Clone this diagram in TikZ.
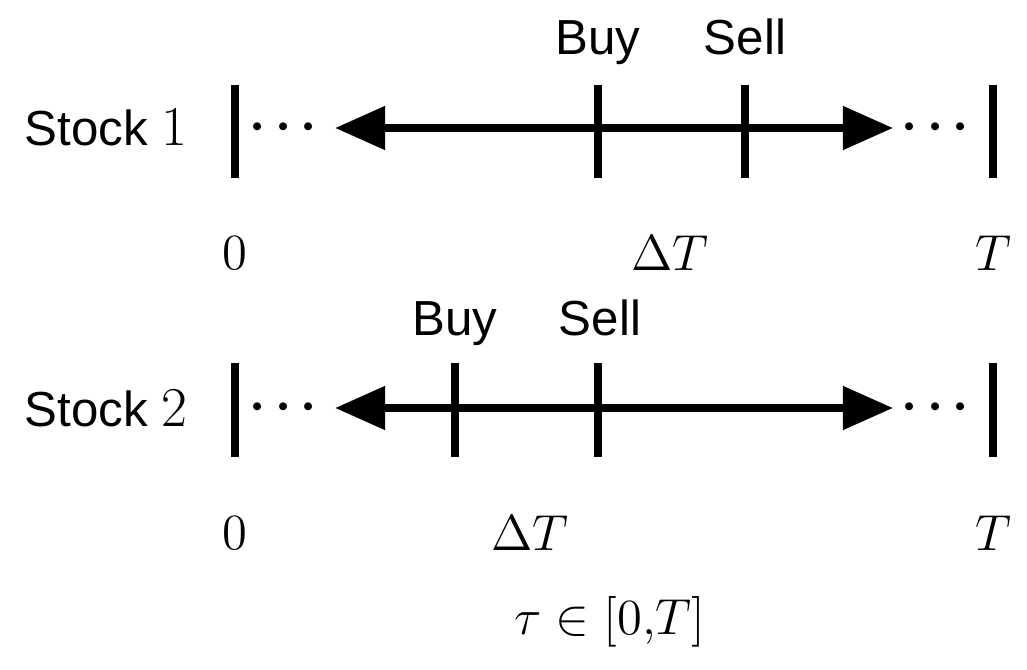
\documentclass[tikz,border=0pt]{standalone}
\usepackage{amsmath}
\usepackage{fontspec}
\setmainfont{Liberation Sans}
\newfontfamily\lmr{Latin Modern Roman}
\usetikzlibrary{arrows.meta}
\begin{document}
\begin{tikzpicture}[x=0.01cm,y=-0.01cm,
    txt/.style={font=\fontsize{14pt}{16pt}\selectfont},
    lbl/.style={font=\fontsize{15.5pt}{18pt}\selectfont},
    tick/.style={line width=2.2pt},
    axis/.style={line width=2.2pt, {Triangle[length=0.5cm,width=0.42cm]}-{Triangle[length=0.5cm,width=0.42cm]}}]
    \useasboundingbox (0,0) rectangle (1027,670);

    % Stock 1
    \node[txt, anchor=base east] (s1) at (200,146) {Stock {\lmr\fontsize{16pt}{18pt}\selectfont 1}};
    \draw[tick] (235,85) -- (235,178);
    \draw[tick] (598,85) -- (598,178);
    \draw[tick] (745,85) -- (745,178);
    \draw[tick] (993,85) -- (993,178);
    \node[txt] (d1a) at (288,128) {$\boldsymbol{\cdots}$};
    \node[txt] (d1b) at (940,128) {$\boldsymbol{\cdots}$};
    \coordinate (l1) at (335,128);
    \coordinate (r1) at (893,128);
    \draw[axis] (l1) -- (r1);
    \node[txt, anchor=base] (buy1) at (598,55) {Buy};
    \node[txt, anchor=base] (sell1) at (745,55) {Sell};
    \node[lbl] (z1) at (235,253) {$0$};
    \node[lbl] (dt1) at (670,253) {$\Delta T$};
    \node[lbl] (t1) at (993,253) {$T$};

    % Stock 2
    \node[txt, anchor=base east] (s2) at (200,426) {Stock {\lmr\fontsize{16pt}{18pt}\selectfont 2}};
    \draw[tick] (235,363) -- (235,457);
    \draw[tick] (455,363) -- (455,457);
    \draw[tick] (598,363) -- (598,457);
    \draw[tick] (993,363) -- (993,457);
    \node[txt] (d2a) at (288,408) {$\boldsymbol{\cdots}$};
    \node[txt] (d2b) at (940,408) {$\boldsymbol{\cdots}$};
    \coordinate (l2) at (335,408);
    \coordinate (r2) at (893,408);
    \draw[axis] (l2) -- (r2);
    \node[txt, anchor=base] (buy2) at (455,335) {Buy};
    \node[txt, anchor=base] (sell2) at (600,335) {Sell};
    \node[lbl] (z2) at (235,533) {$0$};
    \node[lbl] (dt2) at (530,533) {$\Delta T$};
    \node[lbl] (t2) at (993,533) {$T$};

    \node[lbl] (tau) at (610,622) {$\tau \in [0{,}T]$};
\end{tikzpicture}
\end{document}
